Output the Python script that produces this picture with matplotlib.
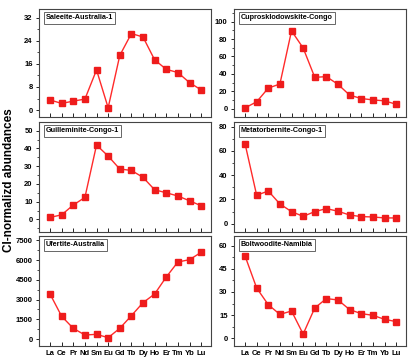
import numpy as np
import matplotlib.pyplot as plt
from matplotlib.ticker import MultipleLocator

plt.rcParams['font.family'] = ['Liberation Sans', 'DejaVu Sans']
plt.rcParams['font.weight'] = 'bold'

elements = ['La', 'Ce', 'Pr', 'Nd', 'Sm', 'Eu', 'Gd', 'Tb', 'Dy', 'Ho', 'Er', 'Tm', 'Yb', 'Lu']

saleeite = [3.5, 2.3, 3.1, 3.8, 13.9, 0.8, 18.9, 26.5, 25.3, 17.4, 14.1, 13.0, 9.5, 7.0]
cuprosklodowskite = [0.8, 7.8, 23.6, 28.3, 89.5, 69.8, 36.0, 36.8, 27.9, 15.5, 11.6, 10.0, 8.9, 5.0]
guilleminite = [1.1, 2.6, 8.1, 12.4, 41.9, 35.7, 28.4, 27.6, 23.7, 16.7, 15.0, 13.2, 10.5, 7.7]
metatorbernite = [65.9, 23.4, 26.9, 16.2, 9.9, 6.0, 9.9, 12.4, 10.2, 7.1, 5.8, 5.5, 4.7, 4.7]
ufertite = [3420, 1723, 811, 304, 355, 101, 811, 1773, 2762, 3420, 4712, 5852, 6030, 6587]
boltwoodite = [53.5, 32.6, 21.7, 15.4, 17.6, 2.6, 19.6, 25.7, 24.8, 18.5, 15.9, 14.8, 12.2, 10.7]

panels = [
    ('Saleeite-Australia-1', saleeite, (-2.4, 35), 8),
    ('Cuprosklodowskite-Congo', cuprosklodowskite, (-9.7, 114.7), 20),
    ('Guilleminite-Congo-1', guilleminite, (-7.1, 54.9), 10),
    ('Metatorbernite-Congo-1', metatorbernite, (-6.9, 83.8), 20),
    ('Ufertite-Australia', ufertite, (-532, 7829), 1500),
    ('Boltwoodite-Namibia', boltwoodite, (-5.2, 66.5), 15),
]

fig = plt.figure(figsize=(4.17, 3.61), dpi=100)

lefts = [39 / 417, 234 / 417]
width = 172 / 417
rows = [(1 - 117 / 361, 108 / 361), (1 - 232 / 361, 110 / 361), (1 - 346 / 361, 110 / 361)]

x = np.arange(len(elements))
for i, (name, vals, ylim, step) in enumerate(panels):
    r, c = divmod(i, 2)
    ax = fig.add_axes([lefts[c], rows[r][0], width, rows[r][1]])
    ax.plot(x, vals, color='#ff2a2a', lw=1.0, marker='s', ms=5,
            mfc='#ee1c1c', mec='#ee1c1c')
    ax.set_xlim(-0.95, 13.85)
    ax.set_ylim(*ylim)
    ax.yaxis.set_major_locator(MultipleLocator(step))
    ax.yaxis.set_minor_locator(MultipleLocator(step / 2))
    ax.set_xticks(x)
    if r == 2:
        ax.set_xticklabels(elements, fontsize=5.5, fontweight='bold')
    else:
        ax.set_xticklabels([])
    ax.tick_params(axis='x', direction='in', length=3, width=0.6, pad=3)
    ax.tick_params(axis='y', which='major', direction='out', length=2.5, width=0.6,
                   labelsize=5.5, pad=2)
    ax.tick_params(axis='y', which='minor', direction='out', length=1.5, width=0.5)
    for s in ax.spines.values():
        s.set_color('#444444')
        s.set_linewidth(0.8)
    ax.text(0.04, 0.95, name, transform=ax.transAxes, fontsize=5.2, fontweight='bold',
            ha='left', va='top',
            bbox=dict(boxstyle='square,pad=0.3', fc='white', ec='#666666', lw=0.7))

fig.text(0.022, 0.5, 'CI-normalizd abundances', rotation=90, ha='center', va='center',
         fontsize=8.5, fontweight='bold')

fig.savefig('out.png', dpi=100)
